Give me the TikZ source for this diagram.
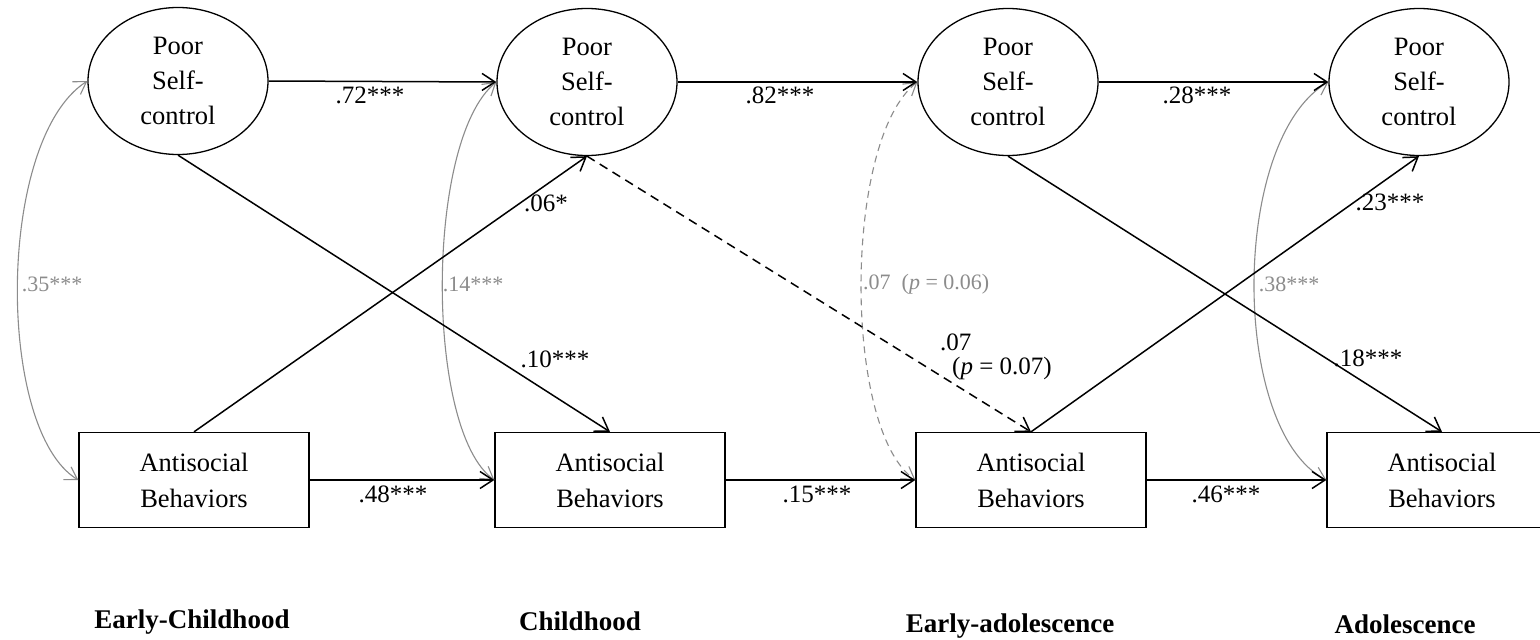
\documentclass[tikz,border=0pt]{standalone}
\usepackage{fontspec}
\setmainfont{Liberation Serif}
\usetikzlibrary{arrows.meta,shapes.geometric}

\definecolor{corrgray}{HTML}{8C8C8C}

\tikzset{
  latent/.style={draw, ellipse, line width=1.3pt, minimum width=180pt, minimum height=147pt,
    inner sep=0pt, align=center, font=\fontsize{26.5}{35}\selectfont},
  observed/.style={draw, rectangle, line width=1.3pt, minimum width=230pt, minimum height=95pt,
    inner sep=0pt, align=center, font=\fontsize{26.5}{36}\selectfont},
  path/.style={line width=1.5pt, -{Straight Barb[length=13pt,width=17pt,line width=1.5pt]}},
  ns path/.style={path, dashed, dash pattern=on 9pt off 6pt},
  corr/.style={corrgray, line width=1.1pt,
    {Straight Barb[length=12pt,width=15pt,line width=1.1pt]}-{Straight Barb[length=12pt,width=15pt,line width=1.1pt]}},
  coef/.style={font=\fontsize{25}{28}\selectfont, inner sep=0pt},
  corrlab/.style={font=\fontsize{22}{26}\selectfont, text=corrgray, inner sep=0pt},
  period/.style={font=\fontsize{27}{30}\selectfont\bfseries, inner sep=0pt},
}

\begin{document}
\begin{tikzpicture}[x=1pt, y=-1pt]
  \useasboundingbox[fill=white] (0,0) rectangle (1540,640);

  % poor self-control, four waves
  \node[latent] (sc1) at (178,81)  {Poor\\Self-\\control};
  \node[latent] (sc2) at (587,82)  {Poor\\Self-\\control};
  \node[latent] (sc3) at (1008,82) {Poor\\Self-\\control};
  \node[latent] (sc4) at (1419,82) {Poor\\Self-\\control};

  % antisocial behaviors, four waves
  \node[observed] (ab1) at (194,480)  {Antisocial\\Behaviors};
  \node[observed] (ab2) at (610,480)  {Antisocial\\Behaviors};
  \node[observed] (ab3) at (1031,480) {Antisocial\\Behaviors};
  \node[observed] (ab4) at (1442,480) {Antisocial\\Behaviors};

  % within-wave correlations
  \draw[corr] (sc1.west) .. controls (-4,140) and (-4,430) .. (ab1.west);
  \draw[corr] (sc2.west) .. controls (425,140) and (425,430) .. (ab2.west);
  \draw[corr, dashed, dash pattern=on 7pt off 5pt] (sc3.west) .. controls (843,140) and (843,430) .. (ab3.west);
  \draw[corr] (sc4.west) .. controls (1230,140) and (1230,430) .. (ab4.west);

  % stability paths
  \draw[path] (sc1.east) -- (sc2.west);
  \draw[path] (sc2.east) -- (sc3.west);
  \draw[path] (sc3.east) -- (sc4.west);
  \draw[path] (ab1.east) -- (ab2.west);
  \draw[path] (ab2.east) -- (ab3.west);
  \draw[path] (ab3.east) -- (ab4.west);

  % cross-lagged paths
  \draw[path] (sc1.south) -- (ab2.north);
  \draw[path] (ab1.north) -- (sc2.south);
  \draw[ns path] (sc2.south) -- (ab3.north);
  \draw[path] (sc3.south) -- (ab4.north);
  \draw[path] (ab3.north) -- (sc4.south);

  % path coefficients
  \node[coef] (c72) at (370,95)  {.72***};
  \node[coef] (c82) at (780,95)  {.82***};
  \node[coef] (c28) at (1197,95) {.28***};
  \node[coef] (c48) at (393,494) {.48***};
  \node[coef] (c15) at (817,494) {.15***};
  \node[coef] (c46) at (1226,494) {.46***};
  \node[coef] (c06) at (546,203) {.06*};
  \node[coef] (c10) at (555,359) {.10***};
  \node[coef] (c18) at (1368,358) {.18***};
  \node[coef] (c23) at (1390,202) {.23***};
  \node[coef, anchor=west] (c07a) at (940,342) {.07};
  \node[coef, anchor=west] (c07b) at (952,368) {(\textit{p} = 0.07)};

  % correlation coefficients
  \node[corrlab] (r35) at (52,284)   {.35***};
  \node[corrlab] (r14) at (473,284)  {.14***};
  \node[corrlab, anchor=west] (r07) at (863,284) {.07 \ (\textit{p} = 0.06)};
  \node[corrlab] (r38) at (1289,284) {.38***};

  % developmental periods
  \node[period] (p1) at (192,622)  {Early-Childhood};
  \node[period] (p2) at (580,621)  {Childhood};
  \node[period] (p3) at (1010,626) {Early-adolescence};
  \node[period] (p4) at (1405,624) {Adolescence};
\end{tikzpicture}
\end{document}
